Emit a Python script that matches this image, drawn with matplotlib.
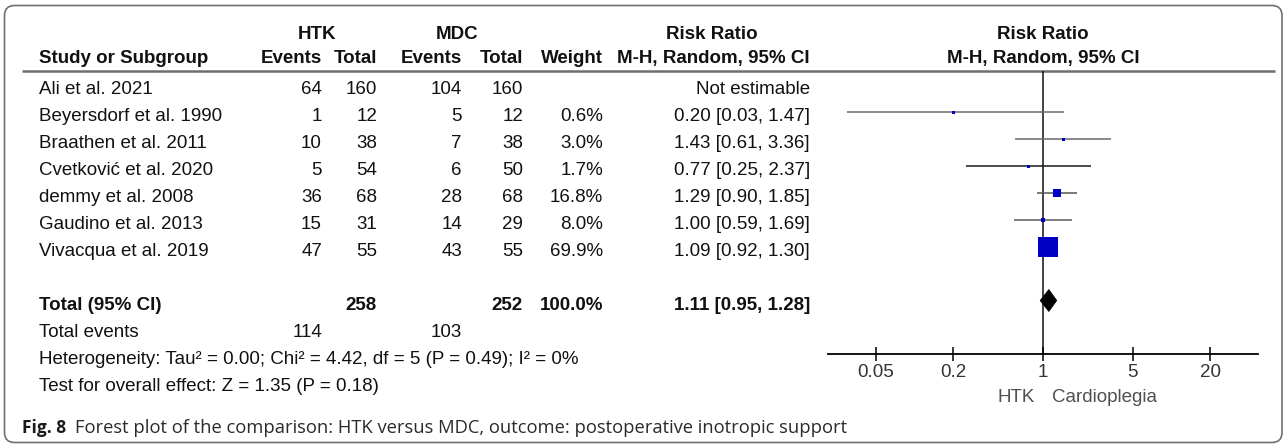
import numpy as np
import matplotlib.pyplot as plt
from matplotlib.patches import FancyBboxPatch, Polygon
from matplotlib.ticker import NullLocator
from matplotlib.transforms import blended_transform_factory

plt.rcParams['font.family'] = ['Liberation Sans', 'DejaVu Sans']

# study level data
studies = ['Ali et al. 2021', 'Beyersdorf et al. 1990', 'Braathen et al. 2011',
           'Cvetković et al. 2020', 'demmy et al. 2008', 'Gaudino et al. 2013',
           'Vivacqua et al. 2019']
htk_events = [64, 1, 10, 5, 36, 15, 47]
htk_total = [160, 12, 38, 54, 68, 31, 55]
mdc_events = [104, 5, 7, 6, 28, 14, 43]
mdc_total = [160, 12, 38, 50, 68, 29, 55]
weight = [np.nan, 0.6, 3.0, 1.7, 16.8, 8.0, 69.9]
rr = [np.nan, 0.20, 1.43, 0.77, 1.29, 1.00, 1.09]
ci_low = [np.nan, 0.03, 0.61, 0.25, 0.90, 0.59, 0.92]
ci_high = [np.nan, 1.47, 3.36, 2.37, 1.85, 1.69, 1.30]

# pooled result
total_htk, total_mdc = 258, 252
events_htk, events_mdc = 114, 103
total_weight = 100.0
pooled_rr, pooled_low, pooled_high = 1.11, 0.95, 1.28
heterogeneity = 'Heterogeneity: Tau\u00b2 = 0.00; Chi\u00b2 = 4.42, df = 5 (P = 0.49); I\u00b2 = 0%'
overall = 'Test for overall effect: Z = 1.35 (P = 0.18)'

xticks = [0.05, 0.2, 1, 5, 20]
xticklabels = ['0.05', '0.2', '1', '5', '20']

# layout (pixels)
W, H = 1287, 448
FS = 13.5
row0, drow = 84.5, 27.0
text_dy = 9.7


def row_y(r):
    return row0 + drow * r


fig = plt.figure(figsize=(W / 100, H / 100), dpi=100)
tx = fig.add_axes([0, 0, 1, 1])
tx.set_xlim(0, W)
tx.set_ylim(H, 0)
tx.axis('off')

# frame
tx.add_patch(FancyBboxPatch((4.5, 5.5), 1277.5, 437, boxstyle='round,pad=0,rounding_size=10',
                            fc='none', ec='#707070', lw=1.2))

# forest panel
top_px, bot_px = 71, 354
left_px, right_px = 828, 1258
fa = fig.add_axes([left_px / W, 1 - bot_px / H, (right_px - left_px) / W, (bot_px - top_px) / H])
fa.patch.set_alpha(0)
fa.set_xscale('log')
fa.set_xlim(1 / 47.2, 47.2)
fa.set_ylim((bot_px - row0) / drow, (top_px - row0) / drow)
for s in ['top', 'left', 'right']:
    fa.spines[s].set_visible(False)
fa.spines['bottom'].set_linewidth(1.3)
fa.set_xticks(xticks)
fa.set_xticklabels(xticklabels)
fa.xaxis.set_minor_locator(NullLocator())
fa.set_yticks([])
fa.tick_params(axis='x', direction='inout', length=9.5, width=1.1, pad=2.5,
               labelsize=FS, labelcolor='#333333')
fa.axvline(1, color='#111111', lw=1.1, zorder=1)

line_colors = ['#6a6a6a', '#6a6a6a', '#6a6a6a', '#1a1a1a', '#555555', '#5a5a5a', '#555555']
w = np.array(weight)
side_px = np.maximum(20 * (w / 69.9) ** 0.65, 3)
for i in range(len(studies)):
    if np.isnan(rr[i]):
        continue
    fa.hlines(i, ci_low[i], ci_high[i], color=line_colors[i], lw=1.1, zorder=2)
    fa.scatter(rr[i], i, marker='s', s=(side_px[i] * 0.72) ** 2, color='#0000c4',
               linewidths=0, zorder=3)

total_row = len(studies) + 1
h = 11 / drow
fa.add_patch(Polygon([(pooled_low, total_row), (pooled_rr, total_row - h),
                      (pooled_high, total_row), (pooled_rr, total_row + h)],
                     closed=True, fc='black', ec='black', lw=0.5, zorder=3))

fa.annotate('HTK', xy=(1, 0), xycoords=('data', 'axes fraction'), xytext=(-6, -25),
            textcoords='offset points', ha='right', va='top', fontsize=FS, color='#505050')
fa.annotate('Cardioplegia', xy=(1, 0), xycoords=('data', 'axes fraction'), xytext=(6.5, -25),
            textcoords='offset points', ha='left', va='top', fontsize=FS, color='#505050')

# table header
hb1, hb2 = 38.7, 62.7
bold = dict(fontsize=FS, fontweight='bold', color='#111111', va='baseline')
tx.text(317, hb1, 'HTK', ha='center', **bold)
tx.text(457, hb1, 'MDC', ha='center', **bold)
tx.text(712, hb1, 'Risk Ratio', ha='center', **bold)
tx.text(39, hb2, 'Study or Subgroup', ha='left', **bold)
col_right = [322, 377, 462, 523, 603, 810]
for x, lab in zip(col_right, ['Events', 'Total', 'Events', 'Total', 'Weight',
                              'M-H, Random, 95% CI']):
    tx.text(x, hb2, lab, ha='right', **bold)

bt = blended_transform_factory(fa.transData, tx.transData)
tx.text(1, hb1, 'Risk Ratio', transform=bt, ha='center', **bold)
tx.text(1, hb2, 'M-H, Random, 95% CI', transform=bt, ha='center', **bold)

tx.plot([22, 1275], [71, 71], color='#6e6e6e', lw=1.8, solid_capstyle='butt')

# table body
norm = dict(fontsize=FS, color='#111111', va='baseline')
for i, name in enumerate(studies):
    y = row_y(i) + text_dy
    tx.text(39, y, name, ha='left', **norm)
    vals = [htk_events[i], htk_total[i], mdc_events[i], mdc_total[i]]
    for x, v in zip(col_right[:4], vals):
        tx.text(x, y, str(v), ha='right', **norm)
    if np.isnan(rr[i]):
        tx.text(col_right[5], y, 'Not estimable', ha='right', **norm)
    else:
        tx.text(col_right[4], y, f'{weight[i]:.1f}%', ha='right', **norm)
        tx.text(col_right[5], y, f'{rr[i]:.2f} [{ci_low[i]:.2f}, {ci_high[i]:.2f}]',
                ha='right', **norm)

y = row_y(total_row) + text_dy
tx.text(39, y, 'Total (95% CI)', ha='left', **bold)
tx.text(col_right[1], y, str(total_htk), ha='right', **bold)
tx.text(col_right[3], y, str(total_mdc), ha='right', **bold)
tx.text(col_right[4], y, f'{total_weight:.1f}%', ha='right', **bold)
tx.text(col_right[5], y, f'{pooled_rr:.2f} [{pooled_low:.2f}, {pooled_high:.2f}]',
        ha='right', **bold)

y = row_y(total_row + 1) + text_dy
tx.text(39, y, 'Total events', ha='left', **norm)
tx.text(col_right[0], y, str(events_htk), ha='right', **norm)
tx.text(col_right[2], y, str(events_mdc), ha='right', **norm)
tx.text(39, row_y(total_row + 2) + text_dy, heterogeneity, ha='left', **norm)
tx.text(39, row_y(total_row + 3) + text_dy, overall, ha='left', **norm)

# caption
tx.text(22, 433, 'Fig. 8', ha='left', va='baseline', fontsize=12.5, fontweight='bold',
        family='Open Sans', color='#1a1a1a')
tx.text(75, 433, 'Forest plot of the comparison: HTK versus MDC, outcome: postoperative inotropic support',
        ha='left', va='baseline', fontsize=13.2, family='Open Sans', color='#2a2a2a')

fig.savefig('out.png', dpi=100)
